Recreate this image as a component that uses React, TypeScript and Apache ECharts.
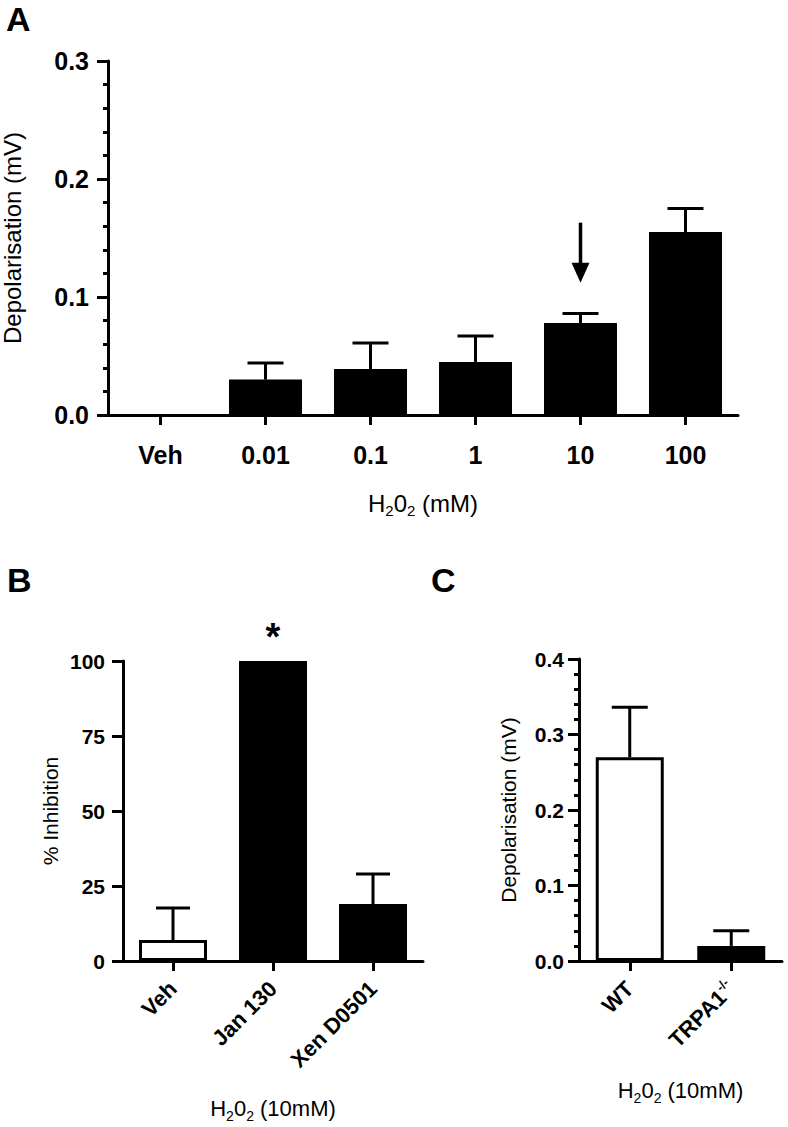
import React, { useEffect, useRef } from "react";
import * as echarts from "echarts";

// ---------- Data ----------
// Panel A: depolarisation vs H2O2 concentration
const aCategories = ["Veh", "0.01", "0.1", "1", "10", "100"];
const aMeans = [0, 0.03, 0.039, 0.045, 0.078, 0.155];
const aSem = [0, 0.014, 0.022, 0.022, 0.008, 0.02];
const aYTicks = { min: 0, max: 0.3, interval: 0.1, minorInterval: 0.02 };
const aArrowCategory = ["10"];
const aArrowFrom = [0.163];
const aArrowTo = [0.112];

// Panel B: % inhibition of H2O2 (10mM) response
const bCategories = ["Veh", "Jan 130", "Xen D0501"];
const bMeans = [7, 100, 19];
const bSem = [10.7, 0, 10];
const bOpenBar = [true, false, false];
const bStarCategory = ["Jan 130"];
const bStarValue = [108];
const bYTicks = { min: 0, max: 100, interval: 25 };

// Panel C: WT vs TRPA1-/-
const cCategories = ["WT", "TRPA1-/-"];
const cMeans = [0.27, 0.02];
const cSem = [0.066, 0.02];
const cOpenBar = [true, false];
const cYTicks = { min: 0, max: 0.4, interval: 0.1, minorInterval: 0.02 };

// ---------- Styles ----------
const FONT = "'Liberation Sans', Arial, Helvetica, sans-serif";
const BLACK = "#000";

function errorRenderer(capWidth: number) {
  return (params: any, api: any) => {
    const x = api.value(0);
    const m = api.value(1);
    const s = api.value(2);
    if (!s) return { type: "group", children: [] };
    const p0 = api.coord([x, m]);
    const p1 = api.coord([x, m + s]);
    const h = capWidth / 2;
    return {
      type: "group",
      children: [
        { type: "line", shape: { x1: p0[0], y1: p0[1], x2: p1[0], y2: p1[1] }, style: { stroke: BLACK, lineWidth: 3 } },
        { type: "line", shape: { x1: p1[0] - h, y1: p1[1], x2: p1[0] + h, y2: p1[1] }, style: { stroke: BLACK, lineWidth: 3 } },
      ],
    };
  };
}

function arrowRenderer(params: any, api: any) {
  const x = api.value(0);
  const top = api.coord([x, api.value(1)]);
  const tip = api.coord([x, api.value(2)]);
  const headH = 20;
  const headW = 9;
  return {
    type: "group",
    children: [
      { type: "line", shape: { x1: top[0], y1: top[1], x2: tip[0], y2: tip[1] - headH + 2 }, style: { stroke: BLACK, lineWidth: 3.5 } },
      {
        type: "polygon",
        shape: { points: [[tip[0] - headW, tip[1] - headH], [tip[0] + headW, tip[1] - headH], [tip[0], tip[1]]] },
        style: { fill: BLACK },
      },
    ],
  };
}

function starRenderer(params: any, api: any) {
  const p = api.coord([api.value(0), api.value(1)]);
  return {
    type: "text",
    x: p[0],
    y: p[1],
    style: { text: "*", font: `bold 38px ${FONT}`, fill: BLACK, align: "center", verticalAlign: "middle" },
  };
}

const subRich = (size: number) => ({
  n: { fontFamily: FONT, fontSize: size, color: BLACK, lineHeight: 30, verticalAlign: "middle" },
  s: { fontFamily: FONT, fontSize: Math.round(size * 0.62), color: BLACK, lineHeight: 12, verticalAlign: "bottom" },
});

function valueAxis(grid: number, ticks: any, fontSize: number, margin: number, decimals: number, name: string, nameSize: number, nameGap: number) {
  return {
    type: "value",
    gridIndex: grid,
    position: "left",
    min: ticks.min,
    max: ticks.max,
    interval: ticks.interval,
    name,
    nameLocation: "middle",
    nameGap,
    nameTextStyle: { fontFamily: FONT, fontSize: nameSize, color: BLACK },
    axisLine: { show: true, lineStyle: { color: BLACK, width: 3 } },
    axisTick: { show: true, length: 11, lineStyle: { color: BLACK, width: 3 } },
    splitLine: { show: false },
    axisLabel: {
      fontFamily: FONT,
      fontWeight: "bold",
      fontSize,
      color: BLACK,
      margin,
      formatter: (v: number) => v.toFixed(decimals),
    },
  };
}

// Overlay axis that only draws the short (minor) ticks, outward on the left
function minorAxis(grid: number, ticks: any) {
  return {
    type: "value",
    gridIndex: grid,
    position: "left",
    offset: 0,
    min: ticks.min,
    max: ticks.max,
    interval: ticks.minorInterval,
    axisLine: { show: false },
    axisTick: { show: true, length: 5, lineStyle: { color: BLACK, width: 3 } },
    axisLabel: { show: false },
    splitLine: { show: false },
  };
}

function categoryAxis(grid: number, cats: string[], label: any, name: string, nameSize: number, nameGap: number) {
  return {
    type: "category",
    gridIndex: grid,
    position: "bottom",
    data: cats,
    name,
    nameLocation: "middle",
    nameGap,
    nameTextStyle: { rich: subRich(nameSize) },
    axisLine: { show: true, lineStyle: { color: BLACK, width: 3 } },
    axisTick: { show: true, alignWithLabel: true, length: 10, lineStyle: { color: BLACK, width: 3 } },
    axisLabel: label,
    splitLine: { show: false },
  };
}

function barData(means: number[], open: boolean[] | null) {
  return means.map((v, i) => {
    const isOpen = open ? open[i] : false;
    return {
      value: v,
      itemStyle: isOpen
        ? { color: "#fff", borderColor: BLACK, borderWidth: 3 }
        : { color: BLACK, borderColor: BLACK, borderWidth: 0 },
    };
  });
}

export default function App() {
  const ref = useRef<HTMLDivElement>(null);
  useEffect(() => {
    if (!ref.current) return;
    const chart = echarts.init(ref.current, null, { renderer: "svg" });

    const rotLabel = (withSup: boolean) => ({
      interval: 0,
      rotate: 45,
      margin: 24,
      formatter: (v: string) => {
        if (withSup && v.endsWith("-/-")) return `{b|${v.slice(0, -3)}}{p|-/-}`;
        return `{b|${v}}`;
      },
      rich: {
        b: { fontFamily: FONT, fontWeight: "bold", fontSize: 22, color: BLACK, lineHeight: 26 },
        p: { fontFamily: FONT, fontWeight: "bold", fontSize: 13, color: BLACK, lineHeight: 12, verticalAlign: "top" },
      },
    });

    const gridBase = { containLabel: false, outerBoundsMode: "none" };

    const option: any = {
      animation: false,
      backgroundColor: "#fff",
      grid: [
        { ...gridBase, left: 108, top: 61, width: 630, height: 354 },
        { ...gridBase, left: 123, top: 661, width: 300, height: 300 },
        { ...gridBase, left: 579, top: 659, width: 203, height: 302 },
      ],
      xAxis: [
        categoryAxis(
          0,
          aCategories,
          { interval: 0, margin: 27, fontFamily: FONT, fontWeight: "bold", fontSize: 25, color: BLACK },
          "{n|H}{s|2}{n|0}{s|2}{n| (mM)}",
          24,
          73
        ),
        categoryAxis(1, bCategories, rotLabel(false), "{n|H}{s|2}{n|0}{s|2}{n| (10mM)}", 22, 132),
        categoryAxis(2, cCategories, rotLabel(true), "{n|H}{s|2}{n|0}{s|2}{n| (10mM)}", 22, 114),
      ],
      yAxis: [
        valueAxis(0, aYTicks, 25, 19, 1, "Depolarisation (mV)", 24, 84),
        valueAxis(1, bYTicks, 21, 18, 0, "% Inhibition", 21, 62),
        valueAxis(2, cYTicks, 21, 15, 1, "Depolarisation (mV)", 21, 60),
        minorAxis(0, aYTicks),
        minorAxis(2, cYTicks),
      ],
      graphic: [
        { type: "text", left: 6, top: 2, style: { text: "A", font: `bold 34px ${FONT}`, fill: BLACK } },
        { type: "text", left: 7, top: 563, style: { text: "B", font: `bold 34px ${FONT}`, fill: BLACK } },
        { type: "text", left: 431, top: 563, style: { text: "C", font: `bold 34px ${FONT}`, fill: BLACK } },
      ],
      series: [
        {
          type: "bar",
          xAxisIndex: 0,
          yAxisIndex: 0,
          barWidth: 73,
          data: barData(aMeans, null),
          z: 2,
        },
        {
          type: "custom",
          xAxisIndex: 0,
          yAxisIndex: 0,
          renderItem: errorRenderer(36),
          data: aCategories.map((c, i) => [i, aMeans[i], aSem[i]]),
          z: 3,
        },
        {
          type: "custom",
          xAxisIndex: 0,
          yAxisIndex: 0,
          renderItem: arrowRenderer,
          data: aArrowCategory.map((c, i) => [aCategories.indexOf(c), aArrowFrom[i], aArrowTo[i]]),
          z: 3,
        },
        {
          type: "bar",
          xAxisIndex: 1,
          yAxisIndex: 1,
          barWidth: 68,
          data: barData(bMeans, bOpenBar),
          z: 2,
        },
        {
          type: "custom",
          xAxisIndex: 1,
          yAxisIndex: 1,
          renderItem: errorRenderer(34),
          data: bCategories.map((c, i) => [i, bMeans[i], bSem[i]]),
          z: 3,
        },
        {
          type: "custom",
          xAxisIndex: 1,
          yAxisIndex: 1,
          renderItem: starRenderer,
          data: bStarCategory.map((c, i) => [bCategories.indexOf(c), bStarValue[i]]),
          z: 3,
        },
        {
          type: "bar",
          xAxisIndex: 2,
          yAxisIndex: 2,
          barWidth: 68,
          data: barData(cMeans, cOpenBar),
          z: 2,
        },
        {
          type: "custom",
          xAxisIndex: 2,
          yAxisIndex: 2,
          renderItem: errorRenderer(36),
          data: cCategories.map((c, i) => [i, cMeans[i], cSem[i]]),
          z: 3,
        },
      ],
    };
    chart.setOption(option);
    return () => chart.dispose();
  }, []);

  return (
    <div
      ref={ref}
      style={{ position: "fixed", left: 0, top: 0, width: 788, height: 1127, background: "#fff" }}
    />
  );
}
